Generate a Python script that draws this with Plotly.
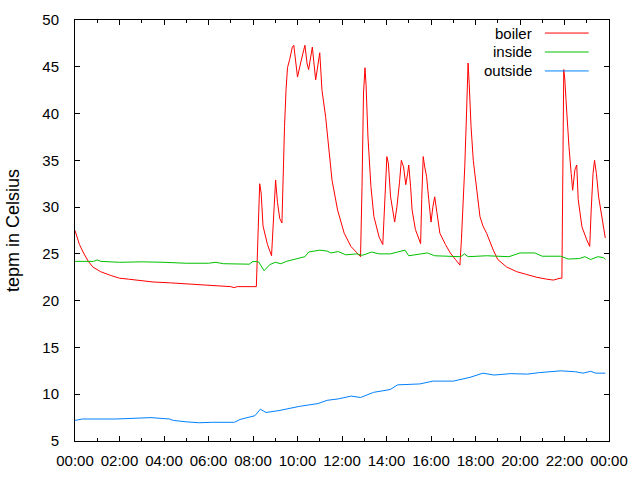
import plotly.graph_objects as go

DAY = "2013-01-01 "

boiler_t = ["00:00", "00:12", "00:23", "00:36", "00:48", "01:09", "01:36", "02:00", "02:24", "03:00",
            "03:30", "04:18", "05:00", "05:36", "06:18", "07:00", "07:09", "07:18", "08:09", "08:13",
            "08:18", "08:22", "08:27", "08:39", "08:50", "08:57", "09:01", "09:06", "09:12", "09:18",
            "09:21", "09:25", "09:29", "09:33", "09:39", "09:46", "09:50", "09:55", "10:00", "10:09",
            "10:20", "10:26", "10:30", "10:40", "10:45", "10:49", "11:00", "11:06", "11:16", "11:24",
            "11:33", "11:48", "12:06", "12:24", "12:50", "12:54", "12:58", "13:02", "13:05", "13:10",
            "13:18", "13:26", "13:40", "13:50", "13:54", "13:58", "14:01", "14:05", "14:11", "14:22",
            "14:28", "14:35", "14:40", "14:46", "14:52", "14:57", "15:00", "15:05", "15:09", "15:18",
            "15:32", "15:35", "15:39", "15:43", "15:48", "15:54", "16:00", "16:05", "16:10", "16:16",
            "16:24", "16:39", "16:52", "17:06", "17:18", "17:22", "17:28", "17:31", "17:35", "17:37",
            "17:40", "17:43", "17:48", "17:54", "18:04", "18:12", "18:20", "18:30", "18:48", "19:00", "19:24",
            "19:51", "20:18", "20:45", "21:12", "21:30", "21:48", "21:53", "21:58", "22:01", "22:04",
            "22:07", "22:12", "22:18", "22:22", "22:28", "22:33", "22:37", "22:47", "23:00", "23:08",
            "23:12", "23:17", "23:21", "23:26", "23:32", "23:41", "23:50"]
boiler_v = [27.5, 26.0, 25.1, 24.2, 23.6, 23.1, 22.7, 22.4, 22.3, 22.1,
            22.0, 21.9, 21.8, 21.7, 21.6, 21.5, 21.4, 21.5, 21.5, 25.6,
            32.5, 31.5, 28.0, 26.0, 24.8, 30.0, 32.9, 30.5, 28.8, 28.3,
            34.3, 38.6, 42.5, 44.9, 45.8, 47.1, 47.3, 45.5, 43.9, 45.5,
            47.3, 45.3, 44.7, 47.1, 45.0, 43.6, 46.5, 42.5, 39.6, 36.4,
            32.9, 29.7, 27.2, 25.8, 24.7, 32.2, 42.2, 44.9, 43.0, 37.5,
            32.2, 29.0, 26.8, 26.0, 29.4, 34.0, 35.4, 34.7, 31.1, 28.4,
            30.0, 32.6, 35.0, 34.3, 32.4, 33.6, 34.5, 32.2, 29.7, 27.6,
            26.1, 30.8, 35.4, 34.3, 33.3, 30.8, 28.4, 30.0, 31.1, 29.4,
            27.2, 26.0, 25.1, 24.4, 23.8, 26.5, 30.8, 34.3, 39.0, 43.2,
            45.4, 43.2, 38.6, 35.0, 31.5, 29.0, 28.0, 27.2, 25.4, 24.4, 23.6,
            23.1, 22.8, 22.5, 22.3, 22.2, 22.4, 22.4, 44.7, 43.6, 41.5,
            39.3, 36.5, 33.6, 31.8, 34.0, 34.5, 30.8, 27.9, 26.5, 25.8,
            29.7, 33.6, 35.0, 33.6, 31.1, 29.0, 26.7]

inside_t = ["00:00", "00:50", "01:00", "01:10", "02:00", "03:00", "04:00", "05:00", "06:00", "06:20",
            "06:40", "07:30", "07:50", "08:00", "08:15", "08:30", "08:45", "09:00", "09:15", "09:30",
            "10:00", "10:20", "10:30", "11:00", "11:20", "11:30", "11:50", "12:10", "12:40", "12:55",
            "13:20", "13:40", "14:10", "14:50", "15:00", "15:50", "16:10", "16:50", "17:20", "17:30",
            "17:40", "18:30", "19:30", "20:00", "20:40", "21:00", "21:50", "22:10", "22:40", "22:55",
            "23:10", "23:30", "23:45", "23:50"]
inside_v = [24.2, 24.2, 24.35, 24.2, 24.1, 24.15, 24.1, 24.0, 24.0, 24.1,
            23.95, 23.95, 23.9, 24.2, 24.15, 23.2, 23.85, 24.1, 23.95, 24.2,
            24.5, 24.7, 25.2, 25.4, 25.3, 25.1, 25.25, 24.9, 25.0, 24.85,
            25.2, 25.0, 25.0, 25.4, 24.8, 25.1, 24.8, 24.7, 24.7, 25.0,
            24.7, 24.8, 24.7, 25.1, 25.1, 24.75, 24.75, 24.45, 24.5, 24.7,
            24.4, 24.7, 24.6, 24.4]

outside_t = ["00:00", "00:20", "01:50", "02:35", "03:25", "04:15", "04:25", "05:00", "05:35", "06:10",
             "07:10", "07:25", "07:55", "08:05", "08:20", "08:35", "09:10", "09:40", "10:05", "10:55",
             "11:20", "11:50", "12:25", "12:50", "13:25", "14:10", "14:30", "15:30", "16:05", "17:00",
             "17:45", "18:20", "18:50", "19:35", "20:20", "20:50", "21:50", "22:30", "22:50", "23:10",
             "23:25", "23:50"]
outside_v = [7.2, 7.35, 7.35, 7.45, 7.5, 7.35, 7.2, 7.05, 6.95, 7.0,
             7.0, 7.3, 7.55, 7.7, 8.4, 8.05, 8.25, 8.5, 8.7, 9.0,
             9.35, 9.5, 9.8, 9.65, 10.2, 10.5, 11.0, 11.1, 11.4, 11.4,
             11.8, 12.25, 12.05, 12.2, 12.15, 12.3, 12.5, 12.4, 12.25, 12.45,
             12.25, 12.25]

series = [("boiler", boiler_t, boiler_v, "#ff0000"),
          ("inside", inside_t, inside_v, "#00c000"),
          ("outside", outside_t, outside_v, "#0080ff")]

FONT = "Liberation Sans"

fig = go.Figure()
for name, t, v, color in series:
    fig.add_trace(go.Scatter(x=[DAY + s for s in t], y=v, mode="lines", name=name,
                             line=dict(color=color, width=1), showlegend=False))

# gnuplot-style key: right aligned text, sample line on the right
for i, (name, t, v, color) in enumerate(series):
    yk = 0.969 - i * 0.045
    fig.add_annotation(x=0.855, y=yk, xref="paper", yref="paper", text=name, showarrow=False,
                       xanchor="right", yanchor="middle", xshift=2, font=dict(size=15, color="black"))
    fig.add_shape(type="line", xref="paper", yref="paper", x0=0.880, x1=0.962, y0=yk, y1=yk,
                  line=dict(color=color, width=1))

fig.update_layout(
    width=640, height=480,
    margin=dict(l=75, r=31, t=20, b=39),
    paper_bgcolor="white", plot_bgcolor="white",
    font=dict(family=FONT, size=15, color="black"),
    xaxis=dict(type="date", range=[DAY + "00:00", "2013-01-02 00:00"],
               tickformat="%H:%M", dtick=7200000, tick0=DAY + "00:00",
               ticks="inside", ticklen=5, tickcolor="black",
               minor=dict(dtick=3600000, ticks="inside", ticklen=3, tickcolor="black"),
               showline=True, linecolor="black", linewidth=1, mirror="allticks",
               showgrid=False, zeroline=False, ticklabelstandoff=6, automargin=False),
    yaxis=dict(range=[5, 50], dtick=5, ticks="inside", ticklen=5, tickcolor="black",
               showline=True, linecolor="black", linewidth=1, mirror="allticks",
               showgrid=False, zeroline=False, ticklabelstandoff=12, automargin=False,
               title=dict(text="tepm in Celsius", standoff=18)),
)

# drop the default 8px page margin so the figure sits at the window origin
fig.write_html("out.html", config={"displayModeBar": False},
               post_script="document.body.style.margin='0';")
